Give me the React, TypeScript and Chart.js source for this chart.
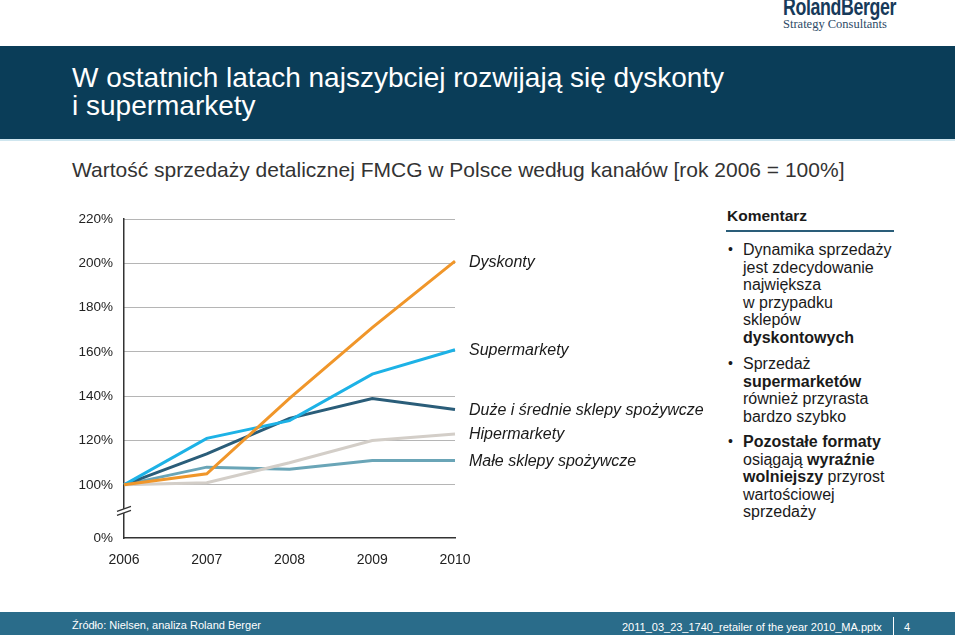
import React, { useEffect, useRef } from "react";
import { Chart, registerables } from "chart.js";

Chart.register(...registerables);

const years = ["2006", "2007", "2008", "2009", "2010"];
const seriesNames = [
  "Dyskonty",
  "Supermarkety",
  "Duże i średnie sklepy spożywcze",
  "Hipermarkety",
  "Małe sklepy spożywcze",
];
const dyskonty = [100, 105, 139, 171, 201];
const supermarkety = [100, 121, 129, 150, 161];
const duzeSrednie = [100, 114, 130, 139, 134];
const hipermarkety = [100, 101, 110, 120, 123];
const maleSklepy = [100, 108, 107, 111, 111];
const seriesColors = ["#F0962A", "#1DB2E6", "#2A5D79", "#D3CEC8", "#6AA5B7"];
// axis break: the "0%" tick sits at a compressed position below 100%
const breakValue = 76;
const yTicks = [76, 100, 120, 140, 160, 180, 200, 220];
const yTickLabels = ["0%", "100%", "120%", "140%", "160%", "180%", "200%", "220%"];

const FONT = "'Liberation Sans', Arial, sans-serif";

const seriesLabelPlugin = {
  id: "seriesLabels",
  afterDatasetsDraw(chart: any) {
    const { ctx, chartArea, scales } = chart;
    ctx.save();
    ctx.font = "italic 16px " + FONT;
    ctx.fillStyle = "#1a1a1a";
    ctx.textBaseline = "middle";
    ctx.textAlign = "left";
    chart.data.datasets.forEach((ds: any) => {
      const last = ds.data[ds.data.length - 1];
      const y = scales.y.getPixelForValue(last);
      ctx.fillText(ds.label, chartArea.right + 14, y + 1);
    });
    ctx.restore();
  },
};

const breakPlugin = {
  id: "axisBreak",
  afterDraw(chart: any) {
    const { ctx, chartArea, scales } = chart;
    const x = chartArea.left;
    const y = (scales.y.getPixelForValue(100) + scales.y.getPixelForValue(breakValue)) / 2 + 1;
    ctx.save();
    ctx.strokeStyle = "#ffffff";
    ctx.lineWidth = 4;
    ctx.beginPath();
    ctx.moveTo(x - 7, y + 1);
    ctx.lineTo(x + 7, y - 4);
    ctx.stroke();
    ctx.strokeStyle = "#333";
    ctx.lineWidth = 1.2;
    ctx.beginPath();
    ctx.moveTo(x - 7, y + 3);
    ctx.lineTo(x + 7, y - 2);
    ctx.moveTo(x - 7, y - 1);
    ctx.lineTo(x + 7, y - 6);
    ctx.stroke();
    ctx.restore();
  },
};

function LineChart() {
  const ref = useRef<HTMLCanvasElement>(null);
  useEffect(() => {
    const data = [dyskonty, supermarkety, duzeSrednie, hipermarkety, maleSklepy];
    const chart = new Chart(ref.current as HTMLCanvasElement, {
      type: "line",
      data: {
        labels: years,
        datasets: data.map((d, i) => ({
          label: seriesNames[i],
          data: d,
          borderColor: seriesColors[i],
          backgroundColor: seriesColors[i],
          borderWidth: 3,
          pointRadius: 0,
          tension: 0,
        })),
      },
      options: {
        animation: false,
        responsive: false,
        maintainAspectRatio: false,
        layout: { padding: { left: 0, right: 265, top: 14, bottom: 12 } },
        plugins: { legend: { display: false }, tooltip: { enabled: false } },
        scales: {
          x: {
            offset: false,
            grid: { display: false, drawTicks: false },
            border: { display: true, color: "#333", width: 1.5 },
            ticks: {
              color: "#222",
              font: { family: FONT, size: 14 },
              padding: 14,
              maxRotation: 0,
            },
            afterFit(scale: any) {
              scale.height = 30;
            },
          },
          y: {
            min: breakValue,
            max: 220,
            afterBuildTicks(scale: any) {
              scale.ticks = yTicks.map((v) => ({ value: v }));
            },
            grid: {
              drawTicks: false,
              color: (c: any) => (c.tick && c.tick.value === breakValue ? "rgba(0,0,0,0)" : "#6a6a6a"),
              lineWidth: 1,
            },
            border: { display: true, color: "#333", width: 1.5, dash: [1, 1] },
            ticks: {
              color: "#222",
              font: { family: FONT, size: 13.5 },
              padding: 11,
              callback: (v: any) => yTickLabels[yTicks.indexOf(Number(v))] ?? "",
            },
            afterFit(scale: any) {
              scale.width = 64;
            },
          },
        },
      },
      plugins: [seriesLabelPlugin, breakPlugin],
    });
    return () => chart.destroy();
  }, []);
  return (
    <canvas
      ref={ref}
      width={660}
      height={380}
      style={{ position: "absolute", left: 60, top: 200, width: 660, height: 380 }}
    />
  );
}

export default function App() {
  useEffect(() => {
    document.body.style.margin = "0";
  }, []);
  const textBase: React.CSSProperties = { position: "absolute", fontFamily: FONT, whiteSpace: "nowrap" };
  const bullet = (top: number, lines: React.ReactNode[]) => (
    <div style={{ ...textBase, left: 728, top, fontSize: 16, lineHeight: "17.6px", color: "#1a1a1a" }}>
      <span style={{ position: "absolute", left: 0, top: 0, fontSize: 14 }}>•</span>
      <div style={{ position: "absolute", left: 15, top: 0 }}>
        {lines.map((l, i) => (
          <div key={i}>{l}</div>
        ))}
      </div>
    </div>
  );
  return (
    <div style={{ position: "relative", width: 959, height: 635, background: "#fff", overflow: "hidden" }}>
      {/* logo */}
      <div
        style={{
          ...textBase,
          left: 783,
          top: -7,
          fontWeight: 700,
          fontSize: 24,
          color: "#173a5a",
          letterSpacing: -0.5,
          transform: "scaleX(0.74)",
          transformOrigin: "left top",
        }}
      >
        RolandBerger
      </div>
      <div style={{ ...textBase, left: 783, top: 17, fontFamily: "'Liberation Serif', serif", fontSize: 12.5, lineHeight: "14px", color: "#2d4a66" }}>
        Strategy Consultants
      </div>
      {/* header bar */}
      <div style={{ position: "absolute", left: 0, top: 46, width: 955, height: 93, background: "#0a3d58" }} />
      <div style={{ position: "absolute", left: 0, top: 139, width: 955, height: 2, background: "#cfe6ef" }} />
      <div style={{ ...textBase, left: 72, top: 64, fontSize: 28, lineHeight: "28px", color: "#ffffff" }}>
        W ostatnich latach najszybciej rozwijają się dyskonty
        <br />i supermarkety
      </div>
      <div style={{ ...textBase, left: 72, top: 157, fontSize: 21, lineHeight: "26px", color: "#333" }}>
        Wartość sprzedaży detalicznej FMCG w Polsce według kanałów [rok 2006 = 100%]
      </div>
      <LineChart />
      {/* comments */}
      <div style={{ ...textBase, left: 727, top: 207, fontSize: 15.5, fontWeight: 700, lineHeight: "18px", color: "#1a1a1a" }}>
        Komentarz
      </div>
      <div style={{ position: "absolute", left: 726, top: 230, width: 168, height: 2, background: "#2a5d79" }} />
      {bullet(241, [
        "Dynamika sprzedaży",
        "jest zdecydowanie",
        "największa",
        "w przypadku",
        "sklepów",
        <b>dyskontowych</b>,
      ])}
      {bullet(355, ["Sprzedaż", <b>supermarketów</b>, "również przyrasta", "bardzo szybko"])}
      {bullet(433, [
        <b>Pozostałe formaty</b>,
        <span>
          osiągają <b>wyraźnie</b>
        </span>,
        <span>
          <b>wolniejszy</b> przyrost
        </span>,
        "wartościowej",
        "sprzedaży",
      ])}
      {/* footer */}
      <div style={{ position: "absolute", left: 0, top: 612, width: 955, height: 23, background: "#2a6c8a" }} />
      <div style={{ ...textBase, left: 72, top: 618, fontSize: 11, lineHeight: "14px", color: "#fff" }}>
        Źródło: Nielsen, analiza Roland Berger
      </div>
      <div style={{ ...textBase, left: 622, top: 620, fontSize: 11, lineHeight: "14px", color: "#fff" }}>
        2011_03_23_1740_retailer of the year 2010_MA.pptx
      </div>
      <div style={{ position: "absolute", left: 893, top: 617, width: 1, height: 18, background: "#fff" }} />
      <div style={{ ...textBase, left: 904, top: 620, fontSize: 11, lineHeight: "14px", color: "#fff" }}>4</div>
    </div>
  );
}
